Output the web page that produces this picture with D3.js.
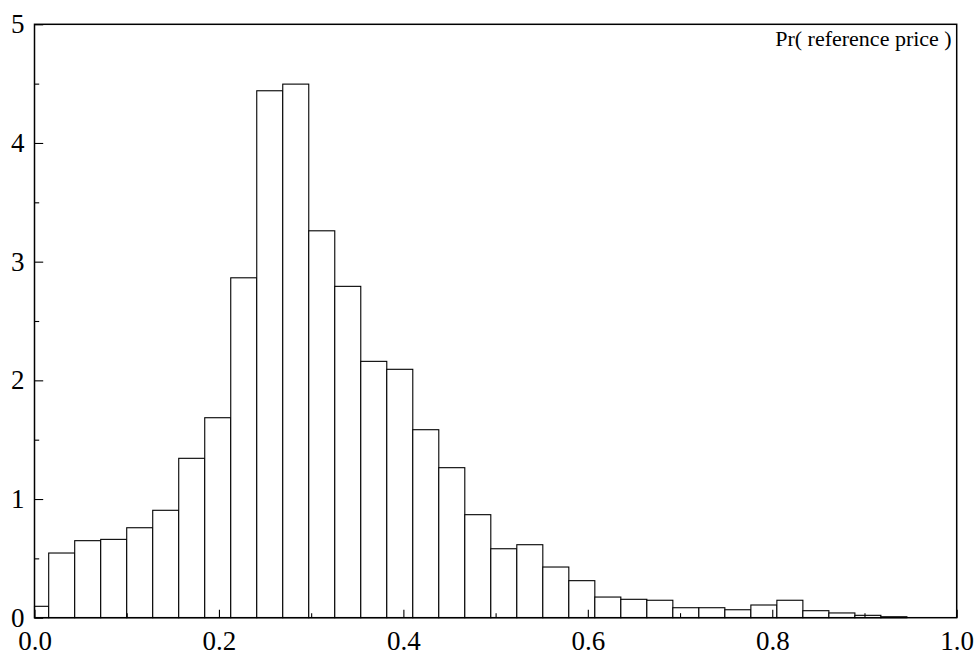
<!DOCTYPE html>
<html>
<head>
<meta charset="utf-8">
<script src="https://cdn.jsdelivr.net/npm/d3@7"></script>
<style>
  html, body { margin: 0; padding: 0; background: #fff; }
  svg { display: block; }
  text { font-family: "Liberation Serif", "DejaVu Serif", serif; fill: #000; }
</style>
</head>
<body>
<svg id="chart" width="979" height="655"></svg>
<script>
// ---- data ----
const binEdges = [0, 0.0154, 0.0436, 0.0718, 0.1000, 0.1282, 0.1564, 0.1846, 0.2128,
  0.2410, 0.2692, 0.2974, 0.3256, 0.3538, 0.3820, 0.4102, 0.4384, 0.4666, 0.4948,
  0.5230, 0.5512, 0.5794, 0.6076, 0.6358, 0.6640, 0.6922, 0.7204, 0.7486, 0.7768,
  0.8050, 0.8332, 0.8614, 0.8896, 0.9178, 0.9460];
const density = [0.096, 0.545, 0.649, 0.660, 0.758, 0.905, 1.343, 1.685, 2.864,
  4.440, 4.496, 3.260, 2.792, 2.160, 2.093, 1.584, 1.264, 0.868, 0.581, 0.615,
  0.427, 0.312, 0.174, 0.155, 0.147, 0.084, 0.084, 0.067, 0.107, 0.147, 0.059,
  0.040, 0.020, 0.008];
const xMajorTicks = [0, 0.2, 0.4, 0.6, 0.8, 1.0];
const xMinorTicks = [0.1, 0.3, 0.5, 0.7, 0.9];
const yMajorTicks = [0, 1, 2, 3, 4, 5];
const yMinorTicks = [0.5, 1.5, 2.5, 3.5, 4.5];
const legendLabel = "Pr( reference price )";

// ---- layout ----
const L = 34.5, R = 956.7, T = 24.3, B = 617.7;
const svg = d3.select("#chart");
const x = d3.scaleLinear().domain([0, 1]).range([L, R]);
const y = d3.scaleLinear().domain([0, 5]).range([B, T]);

const bins = density.map((d, i) => ({ x0: binEdges[i], x1: binEdges[i + 1], v: d }));

svg.append("g").selectAll("rect").data(bins).join("rect")
  .attr("x", d => x(d.x0))
  .attr("y", d => y(d.v))
  .attr("width", d => x(d.x1) - x(d.x0))
  .attr("height", d => y(0) - y(d.v))
  .attr("fill", "#fff")
  .attr("stroke", "#000")
  .attr("stroke-width", 1.1);

// minor ticks
svg.append("g").attr("transform", `translate(0,${B})`)
  .call(d3.axisBottom(x).tickValues(xMinorTicks).tickSize(-4.5).tickFormat(""))
  .call(g => g.select(".domain").remove());
svg.append("g").attr("transform", `translate(${L},0)`)
  .call(d3.axisLeft(y).tickValues(yMinorTicks).tickSize(-4.7).tickFormat(""))
  .call(g => g.select(".domain").remove());

// major ticks + labels
svg.append("g").attr("transform", `translate(0,${B})`)
  .call(d3.axisBottom(x).tickValues(xMajorTicks).tickSize(-8).tickPadding(13)
    .tickFormat(d3.format(".1f")))
  .call(g => g.select(".domain").remove())
  .call(g => g.selectAll("text").attr("font-size", 27));
svg.append("g").attr("transform", `translate(${L},0)`)
  .call(d3.axisLeft(y).tickValues(yMajorTicks).tickSize(-8.7).tickPadding(10)
    .tickFormat(d3.format("d")))
  .call(g => g.select(".domain").remove())
  .call(g => g.selectAll("text").attr("font-size", 27));

svg.selectAll(".tick line").attr("stroke", "#000").attr("stroke-width", 1.1);

// frame
svg.append("rect")
  .attr("x", L).attr("y", T)
  .attr("width", R - L).attr("height", B - T)
  .attr("fill", "none").attr("stroke", "#000").attr("stroke-width", 1.5);

// legend label
svg.append("text")
  .attr("x", R - 5).attr("y", 46)
  .attr("text-anchor", "end")
  .attr("font-size", 22)
  .text(legendLabel);
</script>
</body>
</html>
